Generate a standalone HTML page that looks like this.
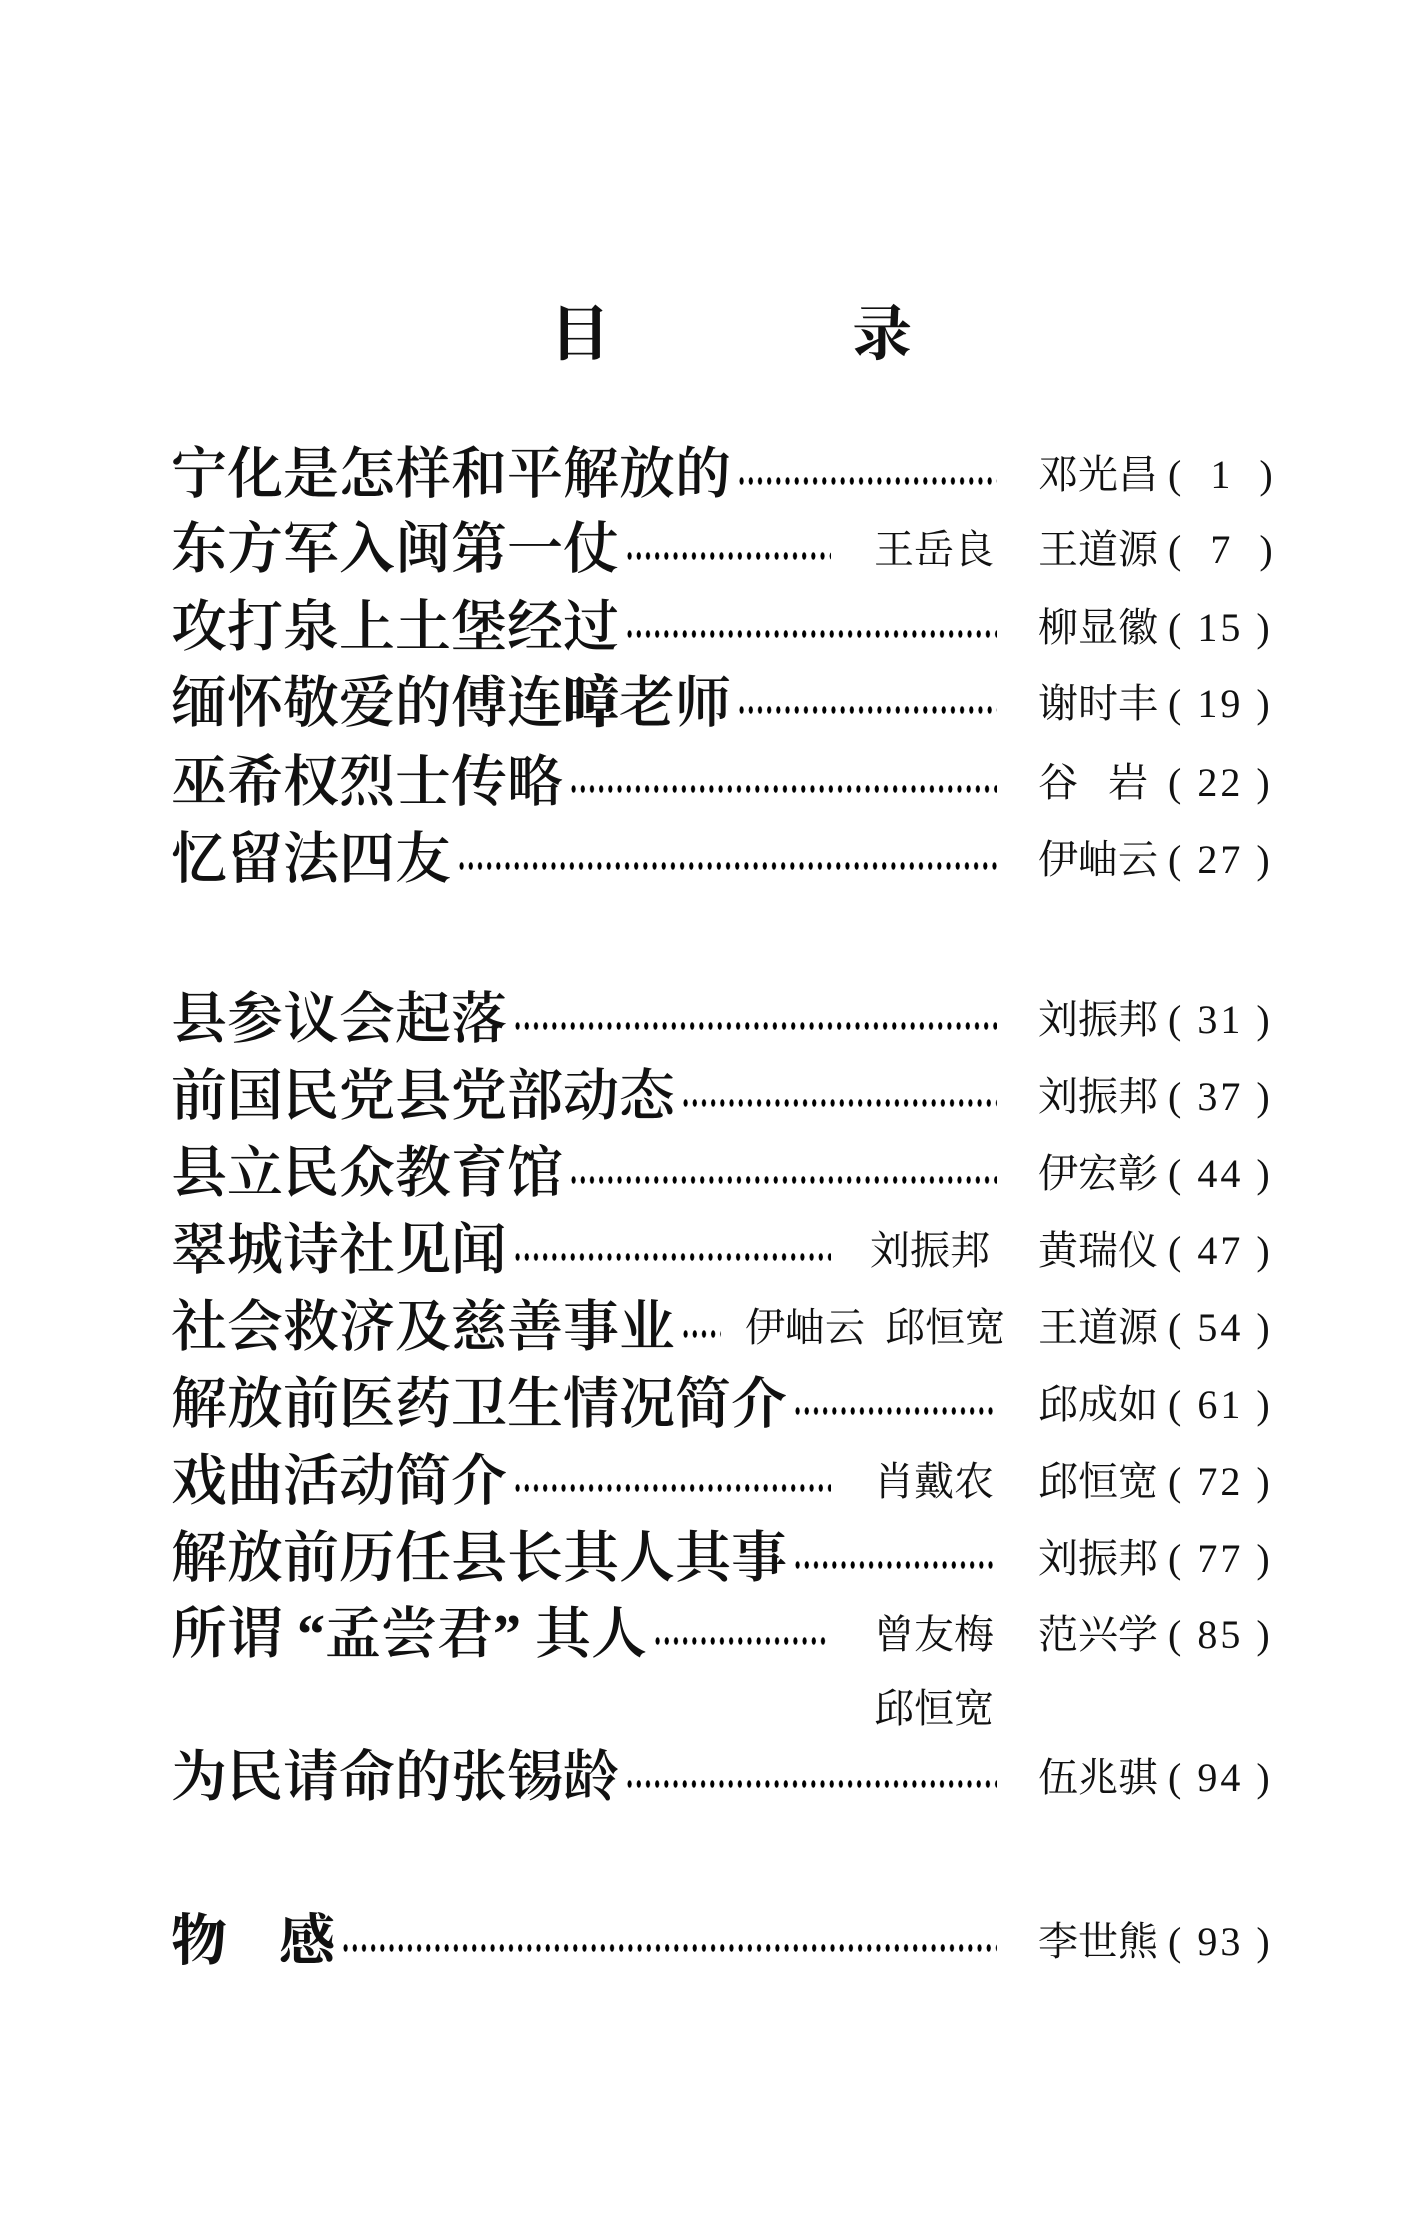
<!DOCTYPE html>
<html><head><meta charset="utf-8"><style>
html,body{margin:0;padding:0;background:#fff;}
body{width:1428px;height:2234px;position:relative;overflow:hidden;color:#111;font-family:"Liberation Serif","Noto Serif CJK SC",serif;}
.h{position:absolute;font-size:60px;line-height:60px;font-weight:700;top:305px;}
.r{position:absolute;left:171px;height:70px;display:flex;align-items:center;}
.t{font-size:56px;line-height:70px;white-space:nowrap;font-family:"Liberation Serif","Noto Serif CJK SC",serif;font-weight:600;}
.d{flex:1;height:12px;margin-top:12px;margin-left:6px;background-image:radial-gradient(ellipse 2.2px 4px at center,#000 85%,transparent 100%);background-size:9.2px 12px;background-repeat:repeat-x;}
.a{position:absolute;font-size:40px;line-height:70px;white-space:nowrap;}
.p{position:absolute;left:1168px;font-size:40px;line-height:70px;white-space:nowrap;font-family:"Liberation Serif",serif;letter-spacing:3px;}
</style></head><body>
<div class="h" style="left:550px">目</div>
<div class="h" style="left:852px">录</div>

<div class="r" style="top:440px;width:826px"><span class="t">宁化是怎样和平解放的</span><span class="d"></span></div>
<div class="a" style="left:1038px;top:440px">邓光昌</div><div class="p" style="top:440px">(&nbsp;&nbsp;1&nbsp;&nbsp;)</div>

<div class="r" style="top:515px;width:660px"><span class="t">东方军入闽第一仗</span><span class="d"></span></div>
<div class="a" style="left:874px;top:515px">王岳良</div>
<div class="a" style="left:1038px;top:515px">王道源</div><div class="p" style="top:515px">(&nbsp;&nbsp;7&nbsp;&nbsp;)</div>

<div class="r" style="top:593px;width:826px"><span class="t">攻打泉上土堡经过</span><span class="d"></span></div>
<div class="a" style="left:1038px;top:593px">柳显徽</div><div class="p" style="top:593px">(&nbsp;15&nbsp;)</div>

<div class="r" style="top:669px;width:826px"><span class="t">缅怀敬爱的傅连<b style="font-weight:900">暲</b>老师</span><span class="d"></span></div>
<div class="a" style="left:1038px;top:669px">谢时丰</div><div class="p" style="top:669px">(&nbsp;19&nbsp;)</div>

<div class="r" style="top:748px;width:826px"><span class="t">巫希权烈士传略</span><span class="d"></span></div>
<div class="a" style="left:1038px;top:748px">谷&nbsp;&nbsp;&nbsp;岩</div><div class="p" style="top:748px">(&nbsp;22&nbsp;)</div>

<div class="r" style="top:825px;width:826px"><span class="t">忆留法四友</span><span class="d"></span></div>
<div class="a" style="left:1038px;top:825px">伊岫云</div><div class="p" style="top:825px">(&nbsp;27&nbsp;)</div>

<div class="r" style="top:985px;width:826px"><span class="t">县参议会起落</span><span class="d"></span></div>
<div class="a" style="left:1038px;top:985px">刘振邦</div><div class="p" style="top:985px">(&nbsp;31&nbsp;)</div>

<div class="r" style="top:1062px;width:826px"><span class="t">前国民党县党部动态</span><span class="d"></span></div>
<div class="a" style="left:1038px;top:1062px">刘振邦</div><div class="p" style="top:1062px">(&nbsp;37&nbsp;)</div>

<div class="r" style="top:1139px;width:826px"><span class="t">县立民众教育馆</span><span class="d"></span></div>
<div class="a" style="left:1038px;top:1139px">伊宏彰</div><div class="p" style="top:1139px">(&nbsp;44&nbsp;)</div>

<div class="r" style="top:1216px;width:660px"><span class="t">翠城诗社见闻</span><span class="d"></span></div>
<div class="a" style="left:870px;top:1216px">刘振邦</div>
<div class="a" style="left:1038px;top:1216px">黄瑞仪</div><div class="p" style="top:1216px">(&nbsp;47&nbsp;)</div>

<div class="r" style="top:1293px;width:550px"><span class="t">社会救济及慈善事业</span><span class="d"></span></div>
<div class="a" style="left:745px;top:1293px">伊岫云</div>
<div class="a" style="left:885px;top:1293px">邱恒宽</div>
<div class="a" style="left:1038px;top:1293px">王道源</div><div class="p" style="top:1293px">(&nbsp;54&nbsp;)</div>

<div class="r" style="top:1370px;width:826px"><span class="t">解放前医药卫生情况简介</span><span class="d"></span></div>
<div class="a" style="left:1038px;top:1370px">邱成如</div><div class="p" style="top:1370px">(&nbsp;61&nbsp;)</div>

<div class="r" style="top:1447px;width:660px"><span class="t">戏曲活动简介</span><span class="d"></span></div>
<div class="a" style="left:874px;top:1447px">肖戴农</div>
<div class="a" style="left:1038px;top:1447px">邱恒宽</div><div class="p" style="top:1447px">(&nbsp;72&nbsp;)</div>

<div class="r" style="top:1524px;width:826px"><span class="t">解放前历任县长其人其事</span><span class="d"></span></div>
<div class="a" style="left:1038px;top:1524px">刘振邦</div><div class="p" style="top:1524px">(&nbsp;77&nbsp;)</div>

<div class="r" style="top:1600px;width:655px"><span class="t">所谓 “孟尝君” 其人</span><span class="d"></span></div>
<div class="a" style="left:874px;top:1600px">曾友梅</div>
<div class="a" style="left:1038px;top:1600px">范兴学</div><div class="p" style="top:1600px">(&nbsp;85&nbsp;)</div>
<div class="a" style="left:874px;top:1674px">邱恒宽</div>

<div class="r" style="top:1743px;width:826px"><span class="t">为民请命的张锡龄</span><span class="d"></span></div>
<div class="a" style="left:1038px;top:1743px">伍兆骐</div><div class="p" style="top:1743px">(&nbsp;94&nbsp;)</div>

<div class="r" style="top:1907px;width:826px"><span class="t" style="font-weight:700">物<span style="display:inline-block;width:52px"></span>感</span><span class="d"></span></div>
<div class="a" style="left:1038px;top:1907px">李世熊</div><div class="p" style="top:1907px">(&nbsp;93&nbsp;)</div>
</body></html>
